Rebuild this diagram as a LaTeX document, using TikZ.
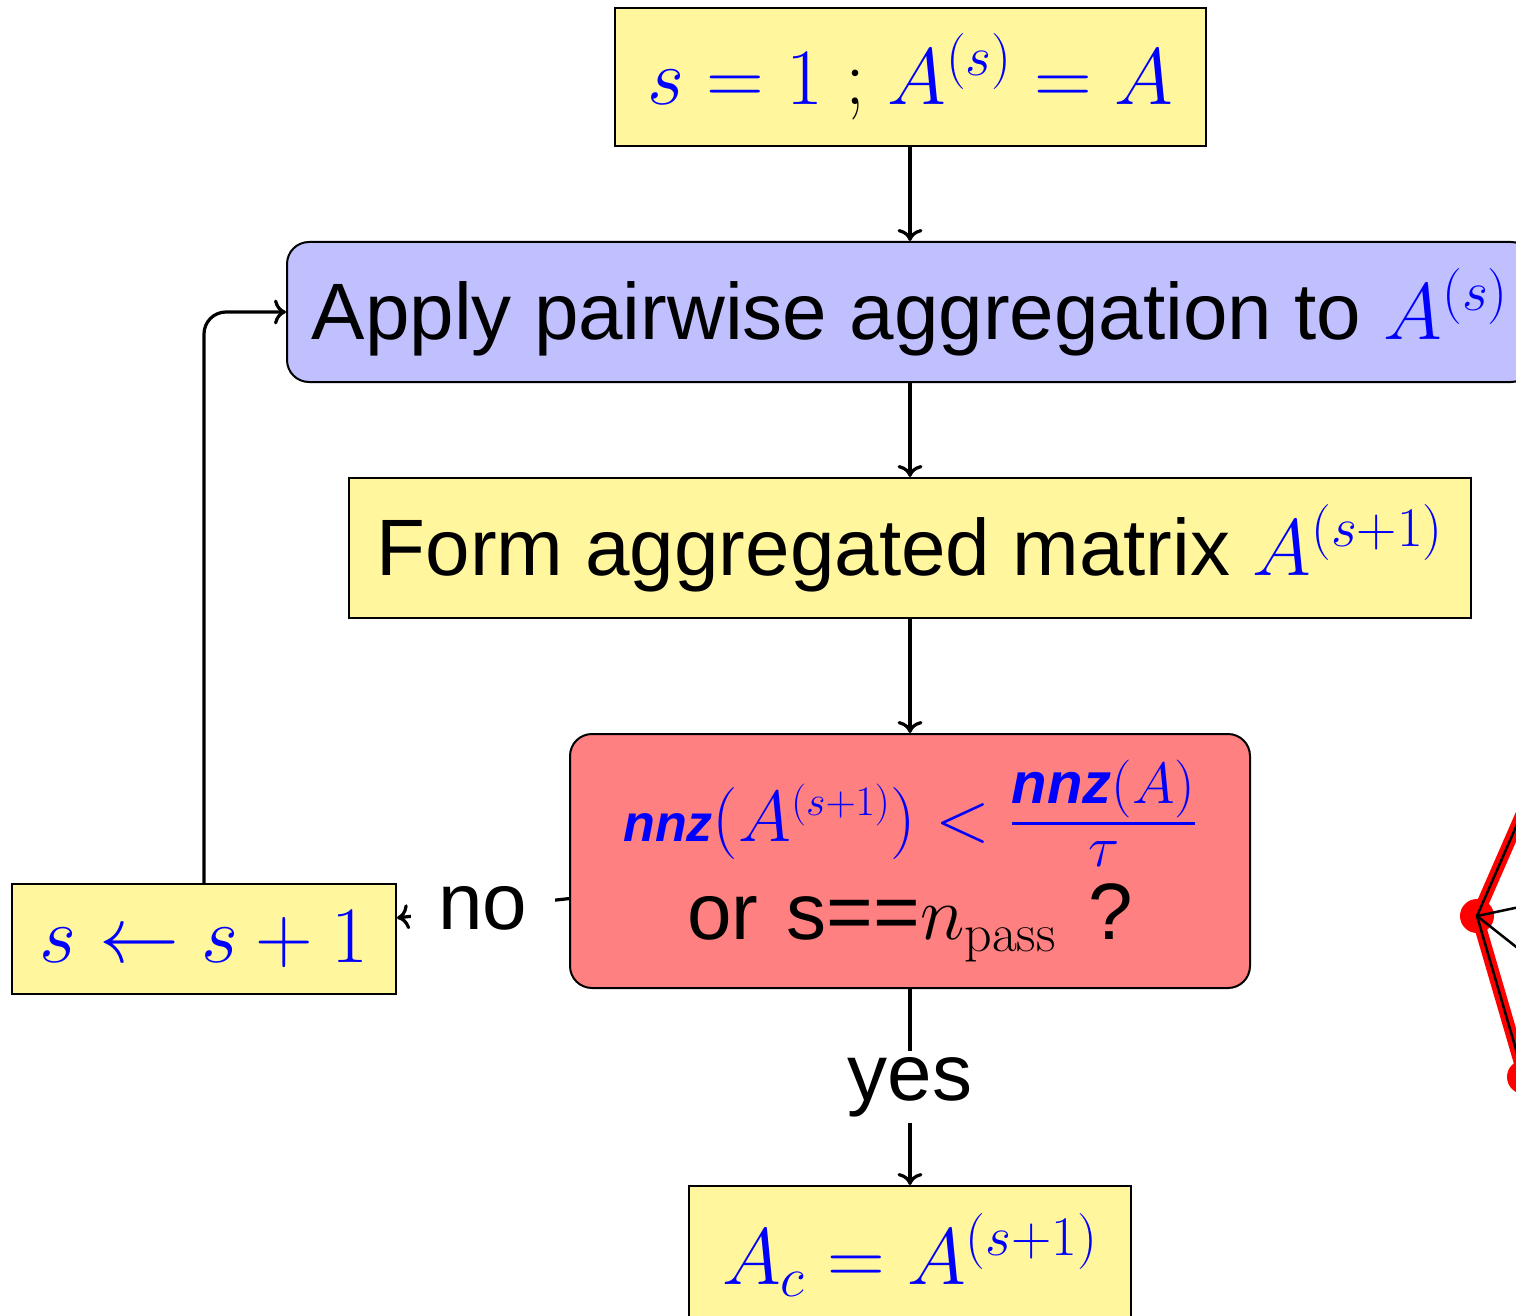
\RequirePackage{fix-cm}
\documentclass[tikz,border=0pt]{standalone}
\usepackage{fontspec}
\newfontfamily\hv{Liberation Sans}
\usetikzlibrary{arrows.meta}
\definecolor{boxyellow}{RGB}{255,246,158}
\definecolor{boxblue}{RGB}{192,192,255}
\definecolor{boxred}{RGB}{255,128,128}
\DeclareMathSizes{72}{72}{42}{30}
\begin{document}
\begin{tikzpicture}[x=1pt,y=-1pt,
  every node/.style={font=\fontsize{80}{96}\selectfont\hv},
  ybox/.style={draw, line width=2pt, fill=boxyellow, inner sep=0pt},
  bbox/.style={draw, line width=2pt, fill=boxblue, rounded corners=22pt, inner sep=0pt},
  rbox/.style={draw, line width=2pt, fill=boxred, rounded corners=22pt, inner sep=0pt, align=center},
  conn/.style={line width=3.2pt, -{To[length=12pt,width=25pt]}},
  lbl/.style={fill=white, inner xsep=28pt, inner ysep=6pt},
  gnode/.style={circle, fill=red, inner sep=0pt, minimum size=34pt},
  redge/.style={red, line width=12pt},
  bedge/.style={black, line width=2.5pt}
]
\path[use as bounding box] (0,0) rectangle (1516,1316);
\clip (0,0) rectangle (1516,1316);

\node[ybox, minimum width=591pt, minimum height=138pt] (init) at (910,77)
  {\color{blue}$s=1$ {\color{black}\rmfamily;} $A^{(s)}=A$};
\node[bbox, minimum width=1246pt, minimum height=140pt] (apply) at (910,312)
  {Apply pairwise aggregation to {\color{blue}$A^{(s)}$}};
\node[ybox, minimum width=1122pt, minimum height=140pt] (form) at (910,548)
  {Form aggregated matrix {\color{blue}$A^{(s+1)}$}};
\node[rbox, minimum width=680pt, minimum height=254pt] (test) at (910,861)
  {{\fontsize{72}{72}\selectfont\color{blue}$\mbox{\hv\bfseries\itshape\fontsize{52}{52}\selectfont nnz}\bigl(A^{(s+1)}\bigr)<{\mbox{\hv\bfseries\itshape\fontsize{58}{58}\selectfont nnz}\mbox{\fontsize{58}{58}\selectfont$(A)$}\above 3.5pt\mbox{\fontsize{58}{58}\selectfont$\tau$}}$}\\[2pt]
   or\ \kern6pt s=={\fontsize{76}{76}\selectfont$n_{\mbox{\rmfamily\fontsize{54}{54}\selectfont pass}}$}\kern10pt\ ?};
\node[ybox, minimum width=384pt, minimum height=110pt] (inc) at (204,939)
  {\color{blue}$s\leftarrow s+1$};
\node[ybox, minimum width=442pt, minimum height=138pt] (final) at (910,1255)
  {\color{blue}$A_c=A^{(s+1)}$};

\draw[conn] (init) -- (apply);
\draw[conn] (apply) -- (form);
\draw[conn] (form) -- (test);
\draw[conn] (test) -- node[lbl] (yes) {yes} (final);
\draw[conn] (test) -- node[lbl] (no) {no} (inc);
\draw[conn, rounded corners=22pt] (inc.north) |- (apply.west);

% partial graph at right edge
\node[gnode] (g1) at (1477,916) {};
\node[gnode] (g2) at (1524,1077) {};
\coordinate (g0) at (1560,726);
\coordinate (g3) at (1600,890);
\coordinate (g4) at (1600,1013);
\draw[redge] (g0) -- (g1.center) -- (g2.center);
\draw[bedge] (g0) -- (g1.center) -- (g2.center);
\draw[bedge] (g1.center) -- (g3);
\draw[bedge] (g1.center) -- (g4);
\end{tikzpicture}
\end{document}
